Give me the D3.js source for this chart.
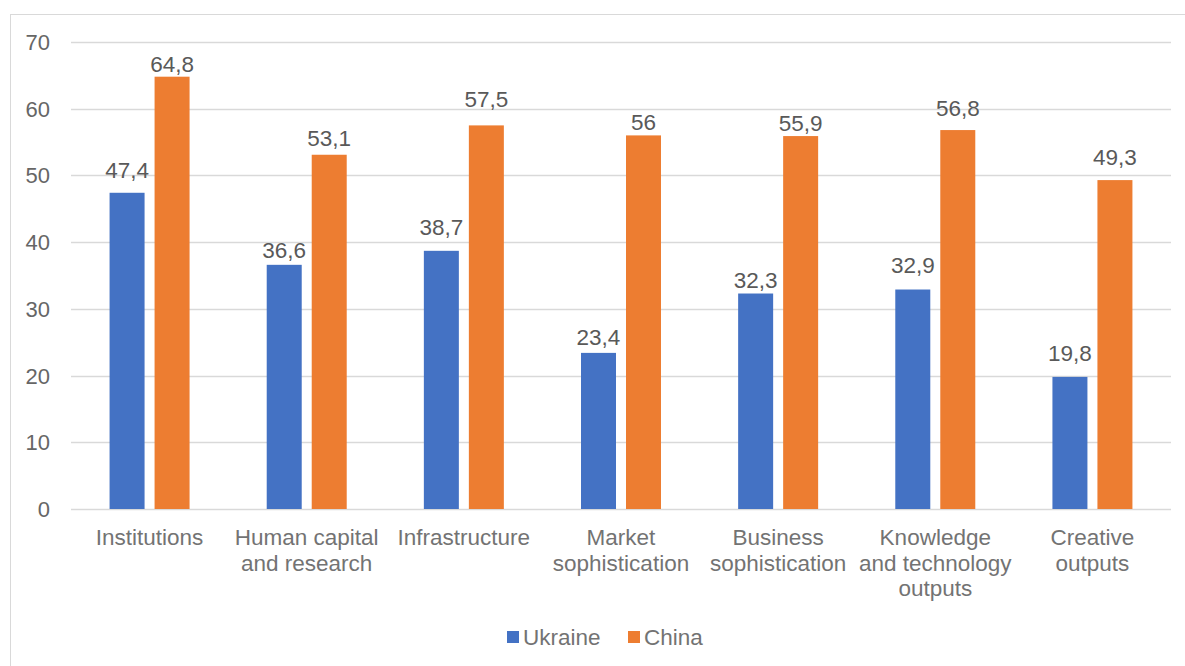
<!DOCTYPE html>
<html>
<head>
<meta charset="utf-8">
<script src="https://cdn.jsdelivr.net/npm/d3@7"></script>
<style>
  body { margin: 0; background: #fff; }
  svg { font-family: "Liberation Sans", Arial, sans-serif; }
</style>
</head>
<body>
<svg id="chart" width="1185" height="666"></svg>
<script>
// data
const categories = [
    ["Institutions"],
    ["Human capital", "and research"],
    ["Infrastructure"],
    ["Market", "sophistication"],
    ["Business", "sophistication"],
    ["Knowledge", "and technology", "outputs"],
    ["Creative", "outputs"]
];
const ukraine = [47.4, 36.6, 38.7, 23.4, 32.3, 32.9, 19.8];
const china = [64.8, 53.1, 57.5, 56, 55.9, 56.8, 49.3];
const yTicks = [0, 10, 20, 30, 40, 50, 60, 70];
const seriesNames = ["Ukraine", "China"];
const seriesColours = ["#4472C4", "#ED7D31"];

// label gaps above the bars (px), as the original file placed them
const ukraineLabelGap = [15, 7, 16, 8, 6, 17, 16];
const chinaLabelGap = [5, 9, 18, 5, 5, 14, 15];

const svg = d3.select("#chart");
const margin = { left: 71, right: 1171, top: 42, bottom: 509 };

// outer border
svg.append("rect")
    .attr("x", 10.5).attr("y", 14.5)
    .attr("width", 1185).attr("height", 700)
    .attr("fill", "none")
    .attr("stroke", "#d9d9d9");

const x = d3.scaleBand()
    .domain(d3.range(categories.length))
    .range([margin.left, margin.right])
    .paddingInner(0).paddingOuter(0);

const y = d3.scaleLinear()
    .domain([0, 70])
    .range([margin.bottom, margin.top]);

const barW = 35, barGap = 10;

// gridlines
svg.append("g")
    .selectAll("line")
    .data(yTicks)
    .enter().append("line")
    .attr("x1", margin.left).attr("x2", margin.right)
    .attr("y1", d => Math.round(y(d)) + 0.5)
    .attr("y2", d => Math.round(y(d)) + 0.5)
    .attr("stroke", "#d9d9d9")
    .attr("stroke-width", 1.3);

// y tick labels
svg.append("g")
    .selectAll("text")
    .data(yTicks)
    .enter().append("text")
    .attr("x", 50)
    .attr("y", d => y(d) + 8)
    .attr("text-anchor", "end")
    .attr("font-size", "22px")
    .attr("fill", "#666666")
    .text(d => d);

// bars
const series = [ukraine, china];
const gaps = [ukraineLabelGap, chinaLabelGap];
series.forEach((vals, s) => {
    const offset = s === 0 ? -barGap / 2 - barW : barGap / 2;
    const g = svg.append("g");
    g.selectAll("rect")
        .data(vals)
        .enter().append("rect")
        .attr("x", (d, i) => x(i) + x.bandwidth() / 2 + offset)
        .attr("y", d => y(d))
        .attr("width", barW)
        .attr("height", d => y(0) - y(d))
        .attr("fill", seriesColours[s]);

    g.selectAll("text")
        .data(vals)
        .enter().append("text")
        .attr("x", (d, i) => x(i) + x.bandwidth() / 2 + offset + barW / 2)
        .attr("y", (d, i) => y(d) - gaps[s][i])
        .attr("text-anchor", "middle")
        .attr("font-size", "22.5px")
        .attr("fill", "#595959")
        .text(d => String(d).replace(".", ","));
});

// category labels
const catLabels = svg.append("g")
    .selectAll("text")
    .data(categories)
    .enter().append("text")
    .attr("x", (d, i) => x(i) + x.bandwidth() / 2)
    .attr("y", 545)
    .attr("text-anchor", "middle")
    .attr("font-size", "22.5px")
    .attr("fill", "#737373");

catLabels.selectAll("tspan")
    .data(d => d)
    .enter().append("tspan")
    .attr("x", function () { return d3.select(this.parentNode).attr("x"); })
    .attr("dy", (d, i) => i === 0 ? 0 : 25.5)
    .text(d => d);

// legend
const legendX = [507, 628];
const legend = svg.append("g")
    .selectAll("g")
    .data(seriesNames)
    .enter().append("g")
    .attr("transform", (d, i) => `translate(${legendX[i]}, 631)`);

legend.append("rect")
    .attr("width", 12).attr("height", 12)
    .attr("fill", (d, i) => seriesColours[i]);

legend.append("text")
    .attr("x", 16).attr("y", 14)
    .attr("font-size", "22.5px")
    .attr("fill", "#737373")
    .text(d => d);
</script>
</body>
</html>
